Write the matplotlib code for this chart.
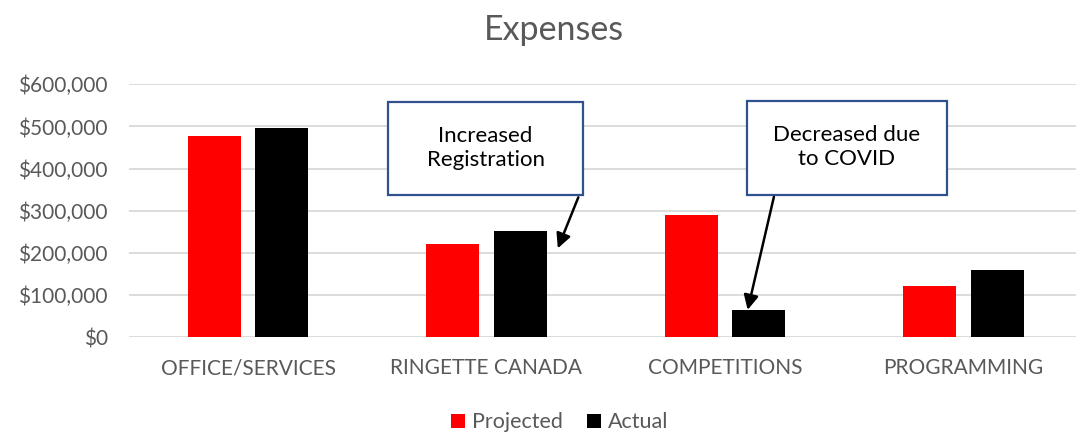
import matplotlib.pyplot as plt
from matplotlib.patches import Rectangle
from matplotlib.ticker import FuncFormatter
import numpy as np

plt.rcParams['font.family'] = ['Lato', 'DejaVu Sans']

# Data
categories = ["OFFICE/SERVICES", "RINGETTE CANADA", "COMPETITIONS", "PROGRAMMING"]
projected = [478000, 221000, 291000, 122000]
actual = [497000, 251000, 64000, 160000]

GREY = "#595959"

fig = plt.figure(figsize=(10.76, 4.34), dpi=100)
ax = fig.add_axes([128.75 / 1076, (434 - 337.3) / 434, 954 / 1076, (337.3 - 84.3) / 434])

x = np.arange(len(categories))
w = 0.222
off = 0.1415
ax.bar(x - off, projected, w, color="#FF0000", label="Projected", zorder=3)
ax.bar(x + off, actual, w, color="#000000", label="Actual", zorder=3)

ax.set_xlim(-0.5, 3.5)
ax.set_ylim(0, 600000)
ax.set_yticks(np.arange(0, 600001, 100000))
ax.yaxis.set_major_formatter(FuncFormatter(lambda v, p: "${:,.0f}".format(v)))
ax.set_xticks(x)
ax.set_xticklabels(categories)
ax.tick_params(axis="both", length=0, colors=GREY, labelsize=15)
ax.tick_params(axis="x", pad=15)
ax.tick_params(axis="y", pad=15)
ax.grid(axis="y", color="#D9D9D9", lw=1.3, zorder=0)
ax.set_axisbelow(True)
for s in ax.spines.values():
    s.set_visible(False)

fig.text(554 / 1076, 0.93, "Expenses", ha="center", va="center", fontsize=24.5, color=GREY)

# Callouts
callouts = [
    ("Increased\nRegistration", 0.996, 448000, 0.814, 220500, (1.385, 332000), (1.299, 211000)),
    ("Decreased due\nto COVID", 2.51, 449000, 0.839, 223000, (2.205, 333000), (2.095, 65000)),
]
for txt, cx, cy, bw, bh, start, end in callouts:
    ax.add_patch(Rectangle((cx - bw / 2, cy - bh / 2), bw, bh, facecolor="white",
                           edgecolor="#2F528F", lw=1.6, zorder=5, clip_on=False))
    ax.text(cx, cy + 2000, txt, ha="center", va="center", fontsize=16, color="black",
            linespacing=1.25, zorder=6)
    ax.annotate("", xy=end, xytext=start,
                arrowprops=dict(arrowstyle="-|>", color="black", lw=1.8,
                                mutation_scale=22, shrinkA=0, shrinkB=0), zorder=6)

leg = fig.legend(loc="center", bbox_to_anchor=(559.5 / 1076, 0.027), ncol=2, frameon=False,
                 fontsize=15.5, handlelength=0.65, handleheight=0.65, handletextpad=0.35,
                 columnspacing=1.1)
for t in leg.get_texts():
    t.set_color(GREY)

fig.savefig("out.png", dpi=100)
